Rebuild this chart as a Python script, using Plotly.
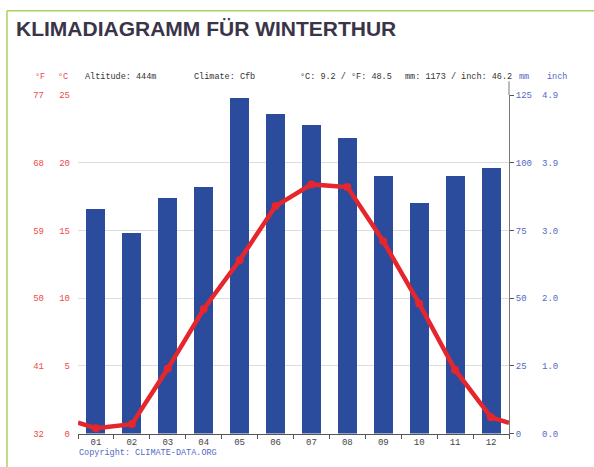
import plotly.graph_objects as go

W, H = 594, 467

months = ["01", "02", "03", "04", "05", "06", "07", "08", "09", "10", "11", "12"]
month_pos = [1, 2, 3, 4, 5, 6, 7, 8, 9, 10, 11, 12]
precip_mm = [83, 74, 87, 91, 124, 118, 114, 109, 95, 85, 95, 98]
temp_c = [0.4, 0.7, 4.8, 9.2, 12.8, 16.8, 18.4, 18.2, 14.2, 9.6, 4.7, 1.2]
temp_edge_c = 0.8  # value where the line meets the plot edges (Dec/Jan wrap)

c_ticks = [0, 5, 10, 15, 20, 25]
f_labels = ["32", "41", "50", "59", "68", "77"]
mm_ticks = [0, 25, 50, 75, 100, 125]
inch_labels = ["0.0", "1.0", "2.0", "3.0", "3.9", "4.9"]

header_texts = ["Altitude: 444m", "Climate: Cfb", "°C: 9.2 / °F: 48.5", "mm: 1173 / inch: 46.2"]
title_text = "KLIMADIAGRAMM FÜR WINTERTHUR"
copyright_text = "Copyright: CLIMATE-DATA.ORG"

RED = "#f04a4a"
BLUE = "#5468c4"
MONO = "Liberation Mono, DejaVu Sans Mono, monospace"

# pixel positions in the screenshot
x_left, x_right = 78, 509
y_top, y_bot = 93, 439

def px(x):
    return x / W

def py(y):
    return (H - y) / H

fig = go.Figure()

# bars on the base (mm) axis, line on an overlaying (°C) axis so it is drawn on top
fig.add_trace(go.Bar(
    x=month_pos, y=precip_mm, yaxis="y", width=0.53,
    marker=dict(color="#2b4c9c", line=dict(width=0)), showlegend=False,
))

line_x = [0.5] + month_pos + [12.5]
line_y = [temp_edge_c] + temp_c + [temp_edge_c]
fig.add_trace(go.Scatter(
    x=line_x, y=line_y, yaxis="y2", mode="lines",
    line=dict(color="#e5262c", width=4.5, shape="linear"), showlegend=False,
))
fig.add_trace(go.Scatter(
    x=month_pos, y=temp_c, yaxis="y2", mode="markers",
    marker=dict(color="#e5262c", size=8), showlegend=False,
))
fig.add_trace(go.Scatter(x=[None], y=[None], yaxis="y3", showlegend=False))
fig.add_trace(go.Scatter(x=[None], y=[None], yaxis="y4", showlegend=False))

ydom = [py(y_bot), py(y_top)]
fig.update_layout(
    width=W, height=H,
    margin=dict(l=0, r=0, t=0, b=0),
    paper_bgcolor="white", plot_bgcolor="white",
    bargap=0,
    xaxis=dict(
        domain=[px(x_left), px(x_right)], range=[0.5, 12.5],
        tickvals=month_pos, ticktext=months, ticks="",
        tickfont=dict(family=MONO, size=9, color="#444"),
        showline=True, linecolor="#555", linewidth=1, showgrid=False, zeroline=False,
        minor=dict(tick0=0.5, dtick=1, ticks="outside", ticklen=4, tickcolor="#555", showgrid=False),
    ),
    yaxis=dict(  # mm, right
        domain=ydom, range=[0, 125], anchor="x", side="right",
        tickvals=mm_ticks, ticktext=[str(v) for v in mm_ticks],
        ticks="outside", ticklen=4, tickcolor="#555",
        tickfont=dict(family=MONO, size=9, color=BLUE),
        showgrid=True, gridcolor="#dcdcdc", gridwidth=1,
        zeroline=False, showline=True, linecolor="#777", linewidth=1,
    ),
    yaxis2=dict(  # °C, left
        domain=ydom, range=[0, 25], overlaying="y", anchor="free", position=px(70), side="left",
        tickvals=c_ticks, ticktext=[str(v) for v in c_ticks], ticks="",
        tickfont=dict(family=MONO, size=9, color=RED),
        showgrid=False, zeroline=False, showline=False,
    ),
    yaxis3=dict(  # °F, left
        domain=ydom, range=[0, 25], overlaying="y", anchor="free", position=px(44), side="left",
        tickvals=c_ticks, ticktext=f_labels, ticks="",
        tickfont=dict(family=MONO, size=9, color=RED),
        showgrid=False, zeroline=False, showline=False,
    ),
    yaxis4=dict(  # inch, right
        domain=ydom, range=[0, 125], overlaying="y", anchor="free", position=px(541), side="right",
        tickvals=mm_ticks, ticktext=inch_labels, ticks="",
        tickfont=dict(family=MONO, size=9, color=BLUE),
        showgrid=False, zeroline=False, showline=False,
    ),
)

def ann(text, x, y, color, size=8.5, xanchor="left", family=MONO, bold=False):
    fig.add_annotation(
        text=f"<b>{text}</b>" if bold else text,
        x=px(x), y=py(y), xref="paper", yref="paper",
        xanchor=xanchor, yanchor="middle", showarrow=False,
        font=dict(family=family, size=size, color=color),
    )

ann(title_text, 14, 25, "#3a3448", size=21, family="Liberation Sans, Arial, sans-serif", bold=True)
ann("°F", 33, 75, RED)
ann("°C", 56, 75, RED)
ann(header_texts[0], 83, 75, "#333")
ann(header_texts[1], 192, 75, "#333")
ann(header_texts[2], 298, 75, "#333")
ann(header_texts[3], 403, 75, "#333")
ann("mm", 517, 75, BLUE)
ann("inch", 545, 75, BLUE)
ann(copyright_text, 77, 459, BLUE)

# green frame and upward extension of the right axis line
fig.add_shape(type="line", xref="paper", yref="paper", x0=px(7), x1=1.02, y0=py(7), y1=py(7),
              line=dict(color="#a8d35a", width=1.5))
fig.add_shape(type="line", xref="paper", yref="paper", x0=px(7), x1=px(7), y0=-0.02, y1=py(7),
              line=dict(color="#a8d35a", width=1.5))
fig.add_shape(type="line", xref="x domain", yref="y domain", x0=1, x1=1, y0=1,
              y1=(y_bot - 79) / (y_bot - y_top), line=dict(color="#777", width=1))

fig.write_html("out.html", config={"displayModeBar": False},
               post_script="document.body.style.margin='0';document.body.style.overflow='hidden';")
